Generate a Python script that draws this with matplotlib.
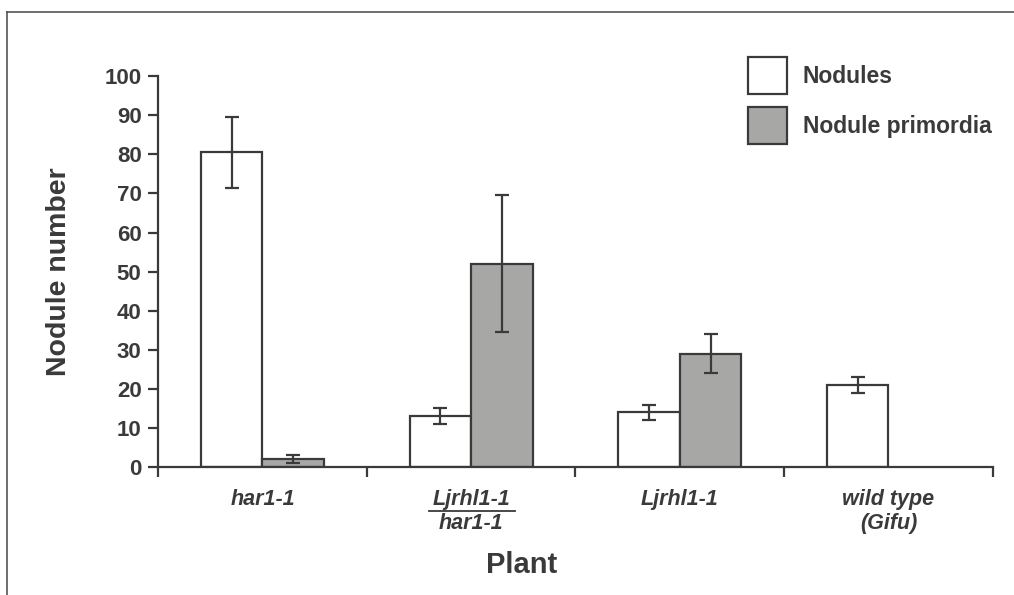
import numpy as np
import matplotlib.pyplot as plt
from matplotlib.lines import Line2D

plants = ['har1-1', 'Ljrhl1-1\nhar1-1', 'Ljrhl1-1', 'wild type\n(Gifu)']
nodules = [80.5, 13, 14, 21]
nodules_err = [9, 2, 2, 2]
primordia = [2, 52, 29, np.nan]
primordia_err = [1, 17.5, 5, np.nan]

ink = '#3a3a3a'
plt.rcParams['font.family'] = ['Liberation Sans', 'DejaVu Sans']
plt.rcParams['font.weight'] = 'bold'

fig = plt.figure(figsize=(10.14, 5.95), dpi=100)
ax = fig.add_axes([0.156, 0.215, 0.823, 0.657])

x = np.arange(len(plants))
w = 0.295
ekw = dict(ecolor=ink, elinewidth=1.6, capthick=1.6)
ax.bar(x - w / 2, nodules, w, yerr=nodules_err, color='white', edgecolor=ink,
       linewidth=1.6, capsize=5, error_kw=ekw, label='Nodules')
ax.bar(x + w / 2, primordia, w, yerr=primordia_err, color='#a7a7a5', edgecolor=ink,
       linewidth=1.6, capsize=5, error_kw=ekw, label='Nodule primordia')

ax.set_xlim(-0.5, len(plants) - 0.5)
ax.set_ylim(0, 100)
ax.set_yticks(np.arange(0, 101, 10))
ax.set_xticks(np.arange(-0.5, len(plants), 1), minor=False)
ax.set_xticklabels([])
ax.set_xticks(x, minor=True)
ax.set_xticklabels(plants, minor=True, style='italic', fontweight='bold',
                   fontsize=15.5, color=ink, linespacing=1.17)
ax.tick_params(axis='x', which='minor', length=0, pad=16)
ax.tick_params(axis='x', which='major', direction='out', length=7, width=1.6, color=ink)
ax.tick_params(axis='y', direction='out', length=7, width=1.6, color=ink,
               labelsize=16, labelcolor=ink, pad=5)
for lab in ax.get_yticklabels():
    lab.set_fontweight('bold')

for s in ['top', 'right']:
    ax.spines[s].set_visible(False)
for s in ['left', 'bottom']:
    ax.spines[s].set_color(ink)
    ax.spines[s].set_linewidth(1.6)

# fraction bar under "Ljrhl1-1" in the double-mutant label
ax.plot([0.80, 1.21], [-0.1125, -0.1125], transform=ax.get_xaxis_transform(),
        color=ink, lw=1.3, clip_on=False)

ax.set_ylabel('Nodule number', fontsize=20.5, fontweight='bold', color=ink)
ax.yaxis.set_label_coords(-0.103, 0.5)
ax.set_xlabel('Plant', fontsize=21, fontweight='bold', color=ink)
ax.xaxis.set_label_coords(0.436, -0.214)

ax.legend(loc='upper left', bbox_to_anchor=(0.726, 0.923),
          bbox_transform=fig.transFigure, frameon=False, borderpad=0,
          fontsize=16.5, labelcolor=ink, handlelength=1.7, handleheight=2.07,
          handletextpad=0.7, labelspacing=0.6)

# scanned figure border
fig.add_artist(Line2D([0.007, 1.0], [0.98, 0.98], color='#555555', lw=1.2))
fig.add_artist(Line2D([0.007, 0.007], [0.0, 0.98], color='#555555', lw=1.2))

fig.savefig('out.png', dpi=100)
